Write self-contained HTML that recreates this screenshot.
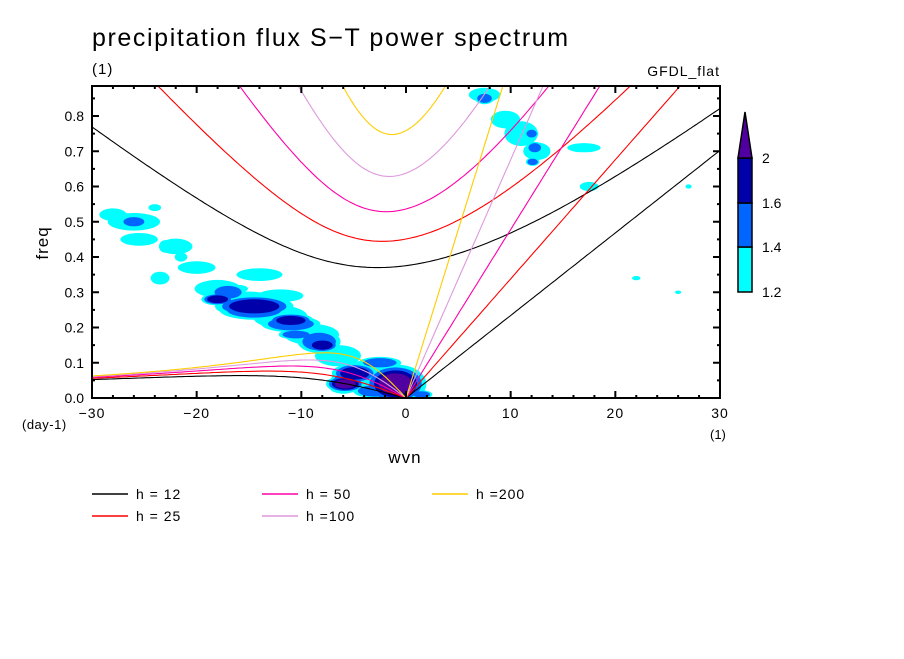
<!DOCTYPE html>
<html><head><meta charset="utf-8">
<style>
body{margin:0;background:#fff;}
svg text{font-family:"Liberation Sans","DejaVu Sans",sans-serif;fill:#000;}
</style></head>
<body>
<svg id="chart" width="904" height="654" viewBox="0 0 904 654" xmlns="http://www.w3.org/2000/svg">
<defs><clipPath id="pc"><rect x="92" y="86" width="628" height="312"/></clipPath></defs>
<text x="92" y="46" font-size="25" letter-spacing="1.6">precipitation flux S−T power spectrum</text>
<text x="92" y="74" font-size="15" letter-spacing="1">(1)</text>
<text x="720" y="76" font-size="14" letter-spacing="1" text-anchor="end">GFDL_flat</text>
<g id="fills" clip-path="url(#pc)"></g>
<g id="curves" clip-path="url(#pc)"></g>
<g id="axes"></g>
<text transform="translate(48,243) rotate(-90)" font-size="17" letter-spacing="1" text-anchor="middle">freq</text>
<text x="405" y="463" font-size="17" letter-spacing="1" text-anchor="middle">wvn</text>
<text x="22" y="429" font-size="13" letter-spacing="0.5">(day-1)</text>
<text x="710" y="439" font-size="13">(1)</text>
<g id="colorbar"></g>
<g id="legend"></g>
</svg>
<script>
const NS="http://www.w3.org/2000/svg";
const depths=[12,25,50,100,200];
const depthColors=["#000000","#ff0000","#ff00aa","#dd99dd","#ffcc00"];
const legendLabels=["h = 12","h = 25","h = 50","h =100","h =200"];
const xTicks=[-30,-20,-10,0,10,20,30];
const yTicks=[0,0.1,0.2,0.3,0.4,0.5,0.6,0.7,0.8];
const levels=[1.2,1.4,1.6,2];
const levelColors=["#00ffff","#0066ff","#0000aa","#5000a0"];
// blobs: wavenumber, frequency, radius-k, radius-f, level index
const blobK=[-26,-28,-25.5,-22,-20,-23.5,-18,-15,-12,-9,-6.5,-4,-1.5,-6,-14,-12,-17,-18,-14.5,-11,-8.3,-5,-10.5,-1,-5.8,-3,-2.5,1.5,7.5,11,9.5,12.5,17,17.5,-26,-18,-14.5,-11,-8,-4.9,-1,-5.8,7.5,12,12.3,12.1,-23,-21.5,-16,-13,-10,-7.5,22,26,-31,-24,27];
const blobF=[0.5,0.52,0.45,0.43,0.37,0.34,0.31,0.27,0.23,0.18,0.12,0.08,0.05,0.03,0.35,0.29,0.3,0.28,0.25,0.21,0.16,0.08,0.18,0.05,0.05,0.02,0.1,0.01,0.86,0.75,0.79,0.7,0.71,0.6,0.5,0.28,0.26,0.22,0.15,0.07,0.04,0.04,0.85,0.75,0.71,0.67,0.43,0.4,0.31,0.22,0.18,0.12,0.34,0.3,0.66,0.54,0.6];
const blobRK=[2.5,1.3,1.8,1.6,1.8,0.9,2.2,2.6,2.6,2.6,2.2,2,1.8,1.3,2.2,2.2,1.3,0.9,2.6,2.2,1.6,1.3,1.3,2,1.1,1.6,1.6,0.8,1.5,1.6,1.4,1.3,1.6,0.9,1,1,2.4,1.4,1,1.4,1.6,1,0.7,0.5,0.6,0.5,0.6,0.6,0.9,0.9,0.9,0.7,0.4,0.3,0.6,0.6,0.3];
const blobRF=[0.025,0.018,0.018,0.022,0.018,0.018,0.025,0.032,0.032,0.03,0.03,0.025,0.03,0.018,0.018,0.018,0.018,0.013,0.022,0.018,0.025,0.013,0.011,0.035,0.018,0.016,0.013,0.009,0.02,0.035,0.025,0.025,0.013,0.013,0.013,0.011,0.02,0.013,0.013,0.018,0.03,0.013,0.013,0.011,0.013,0.009,0.018,0.013,0.011,0.009,0.009,0.009,0.006,0.005,0.01,0.01,0.006];
const blobL=[0,0,0,0,0,0,0,0,0,0,0,0,0,0,0,0,1,1,1,1,1,1,1,1,1,1,1,1,0,0,0,0,0,0,1,2,2,2,2,2,3,3,1,1,1,1,0,0,0,0,0,0,0,0,0,0,0];

const X0=92,X1=720,Y0=398,Y1=86;
const xs=k=>X0+(k+30)/60*(X1-X0);
const ys=f=>Y0-f/0.8*(Y0-116);
function el(tag,attrs,parent){const e=document.createElementNS(NS,tag);for(const a in attrs)e.setAttribute(a,attrs[a]);parent.appendChild(e);return e;}

// fills, drawn level by level
const fills=document.getElementById('fills');
for(let L=0;L<4;L++){
  for(let i=0;i<blobK.length;i++){
    if(blobL[i]<L) continue;
    const grow=(blobL[i]-L)*0.28+1;
    const e=el('ellipse',{cx:xs(blobK[i]),cy:ys(blobF[i]),rx:blobRK[i]*grow*10.467,ry:blobRF[i]*grow*352.5,fill:levelColors[L]},fills);
    
    
  }
}

// dispersion curves
const R=6.371e6,beta=2*7.292e-5/R,g=9.81;
const toCpd=w=>w*86400/(2*Math.PI);
function root(kh,w){for(let i=0;i<60;i++){const f=w*w*w-(kh*kh+3)*w-kh,d=3*w*w-(kh*kh+3);w-=f/d;}return w;}
const curves=document.getElementById('curves');
depths.forEach((h,j)=>{
  const c=Math.sqrt(g*h),L=Math.sqrt(c/beta),S=Math.sqrt(beta*c);
  let ig=[],ro=[],kv=[];
  for(let k=-30;k<=30.001;k+=0.25){
    const kh=(k/R)*L;
    const wI=root(kh,Math.sqrt(kh*kh+3)+2);
    ig.push(xs(k).toFixed(1)+','+ys(toCpd(wI*S)).toFixed(1));
    if(k<=0){const wR=root(kh,-kh/(kh*kh+3));ro.push(xs(k).toFixed(1)+','+ys(toCpd(wR*S)).toFixed(1));}
    if(k>=0){kv.push(xs(k).toFixed(1)+','+ys(toCpd(c*k/R)).toFixed(1));}
  }
  [[ig,'ig-curve'],[ro,'rossby-curve'],[kv,'kelvin-line']].forEach(([p,n])=>{
    const e=el('polyline',{points:p.join(' '),fill:'none',stroke:depthColors[j],'stroke-width':1.1},curves);
    
    
  });
});

// axes
const ax=document.getElementById('axes');
el('rect',{x:X0,y:Y1,width:X1-X0,height:Y0-Y1,fill:'none',stroke:'#000','stroke-width':2},ax);
for(let k=-30;k<=30;k+=2){const maj=k%10===0,l=maj?7:3;
  el('line',{x1:xs(k),y1:Y0,x2:xs(k),y2:Y0-l,stroke:'#000','stroke-width':2},ax);
  el('line',{x1:xs(k),y1:Y1,x2:xs(k),y2:Y1+l,stroke:'#000','stroke-width':2},ax);}
for(let i=0;i<=17;i++){const f=i*0.05,maj=i%2===0,l=maj?7:3;
  el('line',{x1:X0,y1:ys(f),x2:X0+l,y2:ys(f),stroke:'#000','stroke-width':2},ax);
  el('line',{x1:X1,y1:ys(f),x2:X1-l,y2:ys(f),stroke:'#000','stroke-width':2},ax);}
xTicks.forEach(k=>{const t=el('text',{x:xs(k),y:418,'font-size':14,'text-anchor':'middle','letter-spacing':1},ax);t.textContent=k<0?'−'+(-k):String(k);
  
  });
yTicks.forEach(f=>{const t=el('text',{x:84,y:ys(f)+5,'font-size':14,'text-anchor':'end'},ax);t.textContent=f.toFixed(1);
  
  });

// colorbar
const cb=document.getElementById('colorbar');
const cbY=[292,247,203,158];
for(let i=0;i<3;i++){el('rect',{x:738,y:cbY[i+1],width:14,height:cbY[i]-cbY[i+1],fill:levelColors[i],stroke:'#000','stroke-width':1.5},cb);}
el('polygon',{points:'738,158 752,158 745,112',fill:levelColors[3],stroke:'#000','stroke-width':1.5},cb);
levels.forEach((v,i)=>{const t=el('text',{x:762,y:cbY[i]+5,'font-size':14},cb);t.textContent=String(v);
  
  });

// legend
const lg=document.getElementById('legend');
const lx=[92,92,262,262,432],ly=[494,516,494,516,494];
depths.forEach((h,j)=>{
  el('line',{x1:lx[j],y1:ly[j],x2:lx[j]+36,y2:ly[j],stroke:depthColors[j],'stroke-width':1.5},lg);
  const t=el('text',{x:lx[j]+44,y:ly[j]+5,'font-size':14,'letter-spacing':1},lg);t.textContent=legendLabels[j];
  
  
});
</script>
</body></html>
